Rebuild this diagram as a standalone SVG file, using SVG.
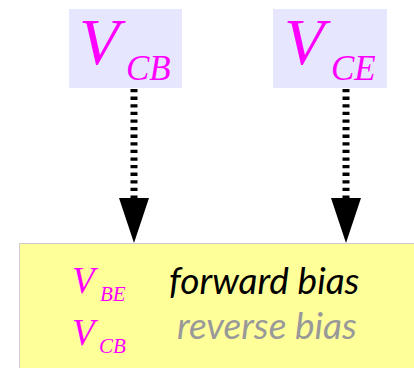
<svg xmlns="http://www.w3.org/2000/svg" width="414" height="368" viewBox="0 0 414 368">
<style>
.v{font-family:"Liberation Serif",serif;font-style:italic;fill:#ff00ff}
.lbl{fill:#e6e6ff}
.conn{stroke:#000;stroke-width:7;stroke-dasharray:3.3 4.3;fill:none}
.t{font-family:Lato,"Open Sans",sans-serif;font-style:italic;font-size:37px}
</style>
<g id="vcb">
<rect class="lbl" x="69" y="9" width="113" height="79"/>
<text class="v" x="79" y="64" font-size="66">V</text>
<text class="v" x="126" y="80" font-size="35">CB</text>
</g>
<g id="vce">
<rect class="lbl" x="273" y="9" width="114" height="79"/>
<text class="v" x="284" y="64" font-size="66">V</text>
<text class="v" x="331" y="80" font-size="35">CE</text>
</g>
<g id="bias">
<rect x="19.5" y="243.5" width="400" height="130" fill="#ffff99" stroke="#cccccc" stroke-width="1"/>
<text class="v" x="72" y="293" font-size="37">V</text>
<text class="v" x="100" y="301" font-size="21">BE</text>
<text class="t" x="169" y="294" fill="#000">forward bias</text>
<text class="v" x="72" y="345" font-size="37">V</text>
<text class="v" x="99" y="353" font-size="21">CB</text>
<text class="t" x="177" y="339" fill="#999999">reverse bias</text>
</g>
<g id="connectors">
<line class="conn" x1="134" y1="89" x2="134" y2="198"/>
<polygon points="119,198 149,198 134,243"/>
<line class="conn" x1="346" y1="89" x2="346" y2="198"/>
<polygon points="331,198 361,198 346,243"/>
</g>
</svg>
